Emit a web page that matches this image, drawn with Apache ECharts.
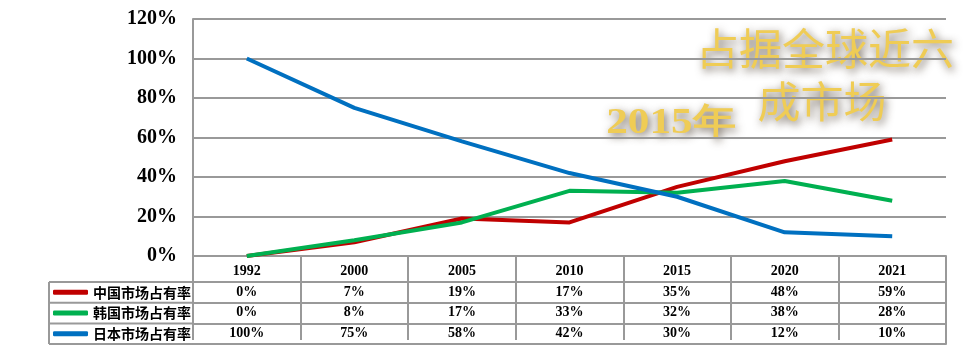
<!DOCTYPE html>
<html><head><meta charset="utf-8">
<script src="https://cdn.jsdelivr.net/npm/echarts@6/dist/echarts.min.js"></script>
<style>html,body{margin:0;padding:0;background:#fff}#c{width:975px;height:355px}</style>
</head><body><div id="c"></div>
<script>
// ---- data ----
const years = ['1992','2000','2005','2010','2015','2020','2021'];
const seriesNames = ['中国市场占有率','韩国市场占有率','日本市场占有率'];
const china = [0, 7, 19, 17, 35, 48, 59];
const korea = [0, 8, 17, 33, 32, 38, 28];
const japan = [100, 75, 58, 42, 30, 12, 10];
const yMin = 0, yMax = 120, yStep = 20;
const note1 = '占据全球近六';
const note2 = '成市场';
const note3 = '2015年';

// ---- layout ----
const W = 975, H = 355;
const GL = 193, GR = 29, GT = 19, GB = 99;
const plotBottom = H - GB;
const TGAP = 4, HEAD_H = 22, ROW_H = 20.7;
const LEG_L = 49;
const border = '#999';
const serif = '"Liberation Serif","Times New Roman",serif';
const cjk = '"Noto Sans CJK SC","Noto Sans",sans-serif';
const colors = ['#c00000', '#00b050', '#0070c0'];
const dataRows = [china, korea, japan];

const chart = echarts.init(document.getElementById('c'), null, {renderer: 'canvas'});

const cellFont = {fontFamily: serif, fontWeight: 'bold', fontSize: 14, color: '#000'};
const xAxes = [];
// header row (years) with vertical table lines as ticks
xAxes.push({
  type: 'category', data: years, position: 'bottom', offset: TGAP, gridIndex: 0,
  boundaryGap: true,
  axisLine: {show: true, lineStyle: {color: border, width: 2}},
  axisTick: {show: true, interval: 0, length: HEAD_H + ROW_H * 3, lineStyle: {color: border, width: 2}},
  axisLabel: Object.assign({interval: 0, margin: 4}, cellFont),
  splitLine: {show: false}
});
dataRows.forEach((row, i) => {
  xAxes.push({
    type: 'category', data: row.map(v => v + '%'), position: 'bottom',
    offset: TGAP + HEAD_H + ROW_H * i, gridIndex: 0, boundaryGap: true,
    axisLine: {show: true, lineStyle: {color: border, width: 2}},
    axisTick: {show: false},
    axisLabel: Object.assign({interval: 0, margin: 3}, cellFont),
    splitLine: {show: false}
  });
});
xAxes.push({
  type: 'category', data: years, position: 'bottom',
  offset: TGAP + HEAD_H + ROW_H * 3, gridIndex: 0, boundaryGap: true,
  axisLine: {show: true, lineStyle: {color: border, width: 2}},
  axisTick: {show: false}, axisLabel: {show: false}, splitLine: {show: false}
});

const tableTop = plotBottom + TGAP;
const rowTop = tableTop + HEAD_H;
const tableBottom = rowTop + ROW_H * 3;
const lines = [];
for (let i = 0; i <= 3; i++) {
  const y = rowTop + ROW_H * i;
  lines.push({type: 'line', shape: {x1: LEG_L, y1: y, x2: GL, y2: y}, style: {stroke: border, lineWidth: 2}});
}
lines.push({type: 'line', shape: {x1: LEG_L, y1: rowTop, x2: LEG_L, y2: tableBottom}, style: {stroke: border, lineWidth: 2}});
lines.push({type: 'line', shape: {x1: W - GR, y1: tableTop, x2: W - GR, y2: tableBottom}, style: {stroke: border, lineWidth: 2}});

const gold = '#efcc55';
const shadow = {
  shadowColor: 'rgba(60,45,30,0.75)', shadowBlur: 8, shadowOffsetX: 2, shadowOffsetY: 3,
  textShadowColor: 'rgba(60,45,30,0.75)', textShadowBlur: 8, textShadowOffsetX: 2, textShadowOffsetY: 3
};

chart.setOption({
  animation: false,
  backgroundColor: '#fff',
  color: colors,
  grid: {left: GL, right: GR, top: GT, bottom: GB, containLabel: false},
  legend: {
    orient: 'vertical', left: LEG_L + 4, top: rowTop, padding: 0, itemGap: 0,
    itemWidth: 35, itemHeight: 5, icon: 'roundRect',
    data: seriesNames,
    textStyle: {fontFamily: cjk, fontWeight: 'bold', fontSize: 14, color: '#000', lineHeight: ROW_H}
  },
  xAxis: xAxes,
  yAxis: {
    type: 'value', min: yMin, max: yMax, interval: yStep,
    axisLine: {show: true, lineStyle: {color: border, width: 2}},
    axisTick: {show: false},
    axisLabel: {formatter: '{value}%', margin: 16, fontFamily: serif, fontWeight: 'bold', fontSize: 20, color: '#000', padding: [4, 0, 0, 0]},
    splitLine: {show: true, lineStyle: {color: border, width: 2}}
  },
  series: seriesNames.map((n, i) => ({
    name: n, type: 'line', xAxisIndex: 0, data: dataRows[i],
    symbol: 'none', smooth: false,
    lineStyle: {width: 4, color: colors[i]}, itemStyle: {color: colors[i]}
  })),
  graphic: lines.concat([
    {type: 'text', x: 825, y: 49, style: Object.assign({text: note1, font: '43px ' + cjk, fill: gold, align: 'center', verticalAlign: 'middle'}, shadow)},
    {type: 'text', x: 822, y: 102, style: Object.assign({text: note2, font: '43px ' + cjk, fill: gold, align: 'center', verticalAlign: 'middle'}, shadow)},
    {type: 'text', x: 671, y: 124, scaleX: 1.2, style: Object.assign({text: note3, font: 'bold 36px ' + serif, fill: gold, align: 'center', verticalAlign: 'middle'}, shadow)}
  ])
});
</script></body></html>
